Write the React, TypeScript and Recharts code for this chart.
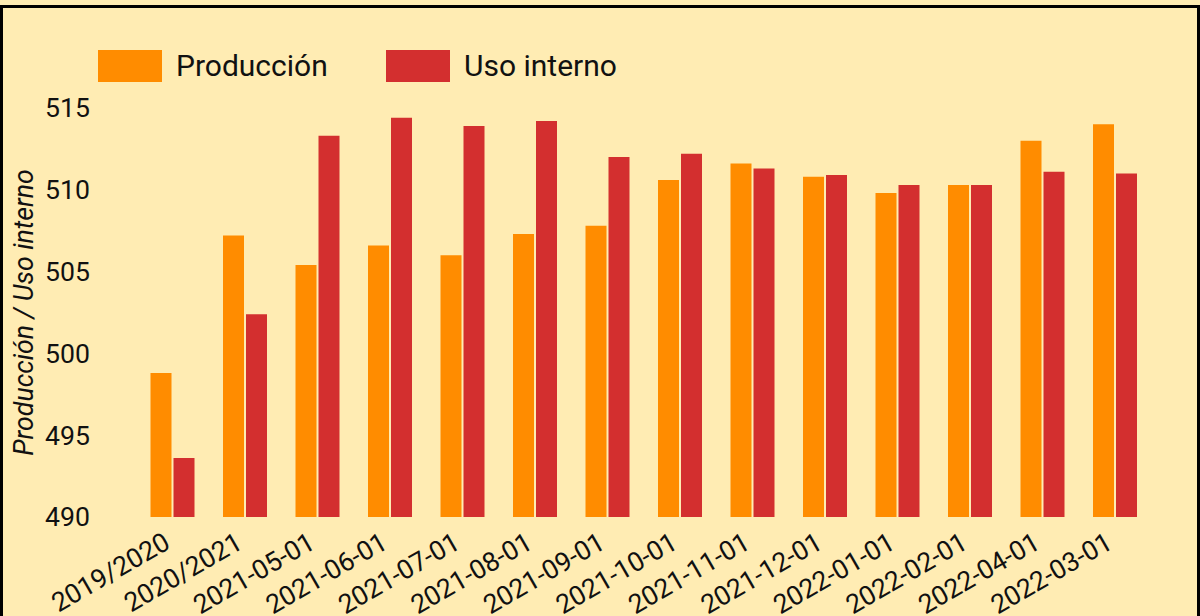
import { BarChart, Bar, XAxis, YAxis, Legend, Label } from "recharts";

const categories = [
  "2019/2020",
  "2020/2021",
  "2021-05-01",
  "2021-06-01",
  "2021-07-01",
  "2021-08-01",
  "2021-09-01",
  "2021-10-01",
  "2021-11-01",
  "2021-12-01",
  "2022-01-01",
  "2022-02-01",
  "2022-04-01",
  "2022-03-01",
];

const produccion = [498.8, 507.2, 505.4, 506.6, 506.0, 507.3, 507.8, 510.6, 511.6, 510.8, 509.8, 510.3, 513.0, 514.0];
const usoInterno = [493.6, 502.4, 513.3, 514.4, 513.9, 514.2, 512.0, 512.2, 511.3, 510.9, 510.3, 510.3, 511.1, 511.0];

const yTicks = [490, 495, 500, 505, 510, 515];

const data = categories.map((name, i) => ({
  name,
  produccion: produccion[i],
  uso: usoInterno[i],
}));

const BG = "#FFECB3";
const ORANGE = "#FF8C00";
const RED = "#D32F2F";
const FONT = "Roboto, sans-serif";
const INK = "#111";

// legend with wide rectangles instead of the default square icons
const LegendBox = (props: any) => {
  const { payload } = props;
  return (
    <div style={{ display: "flex", fontFamily: FONT }}>
      {(payload || []).map((p: any) => (
        <div key={p.value} style={{ display: "flex", alignItems: "center", width: 288 }}>
          <span style={{ display: "inline-block", width: 64, height: 32, background: p.color, marginRight: 14 }} />
          <span style={{ fontSize: 30, lineHeight: "32px", color: INK }}>{p.value}</span>
        </div>
      ))}
    </div>
  );
};

const AxisTitle = (props: any) => {
  const vb = props.viewBox || { y: 0, height: 0 };
  const cy = vb.y + vb.height / 2;
  return (
    <text
      x={30}
      y={cy}
      transform={`rotate(-90, 30, ${cy})`}
      textAnchor="middle"
      fontStyle="italic"
      fontSize={26.67}
      fontFamily={FONT}
      fill={INK}
    >
      Producción / Uso interno
    </text>
  );
};

export default function App() {
  return (
    <div>
      <style>{`body { margin: 0; background: ${BG}; }`}</style>
      <div
        style={{
          width: 1200,
          height: 640,
          marginTop: 5,
          border: "3px solid #000",
          boxSizing: "border-box",
          background: BG,
        }}
      >
        <BarChart
          width={1194}
          height={630}
          data={data}
          margin={{ top: 100, right: 46, bottom: 21, left: 0 }}
          barCategoryGap="20%"
          barGap={2}
        >
          <XAxis
            dataKey="name"
            interval={0}
            height={100}
            axisLine={false}
            tickLine={false}
            tickSize={0}
            tickMargin={14}
            tick={{ angle: -30, dx: -10, textAnchor: "end", fontSize: 26.67, fontFamily: FONT, fill: INK }}
          />
          <YAxis
            width={133}
            domain={[490, 515]}
            ticks={yTicks}
            allowDataOverflow
            axisLine={false}
            tickLine={false}
            tickSize={0}
            tickMargin={46}
            tick={{ fontSize: 26.67, fontFamily: FONT, fill: INK }}
          >
            <Label content={<AxisTitle />} />
          </YAxis>
          <Legend
            layout="horizontal"
            verticalAlign="middle"
            align="center"
            content={<LegendBox />}
            wrapperStyle={{ top: 42, left: 95, width: "auto", height: "auto" }}
          />
          <Bar dataKey="produccion" name="Producción" fill={ORANGE} isAnimationActive={false} />
          <Bar dataKey="uso" name="Uso interno" fill={RED} isAnimationActive={false} />
        </BarChart>
      </div>
    </div>
  );
}
